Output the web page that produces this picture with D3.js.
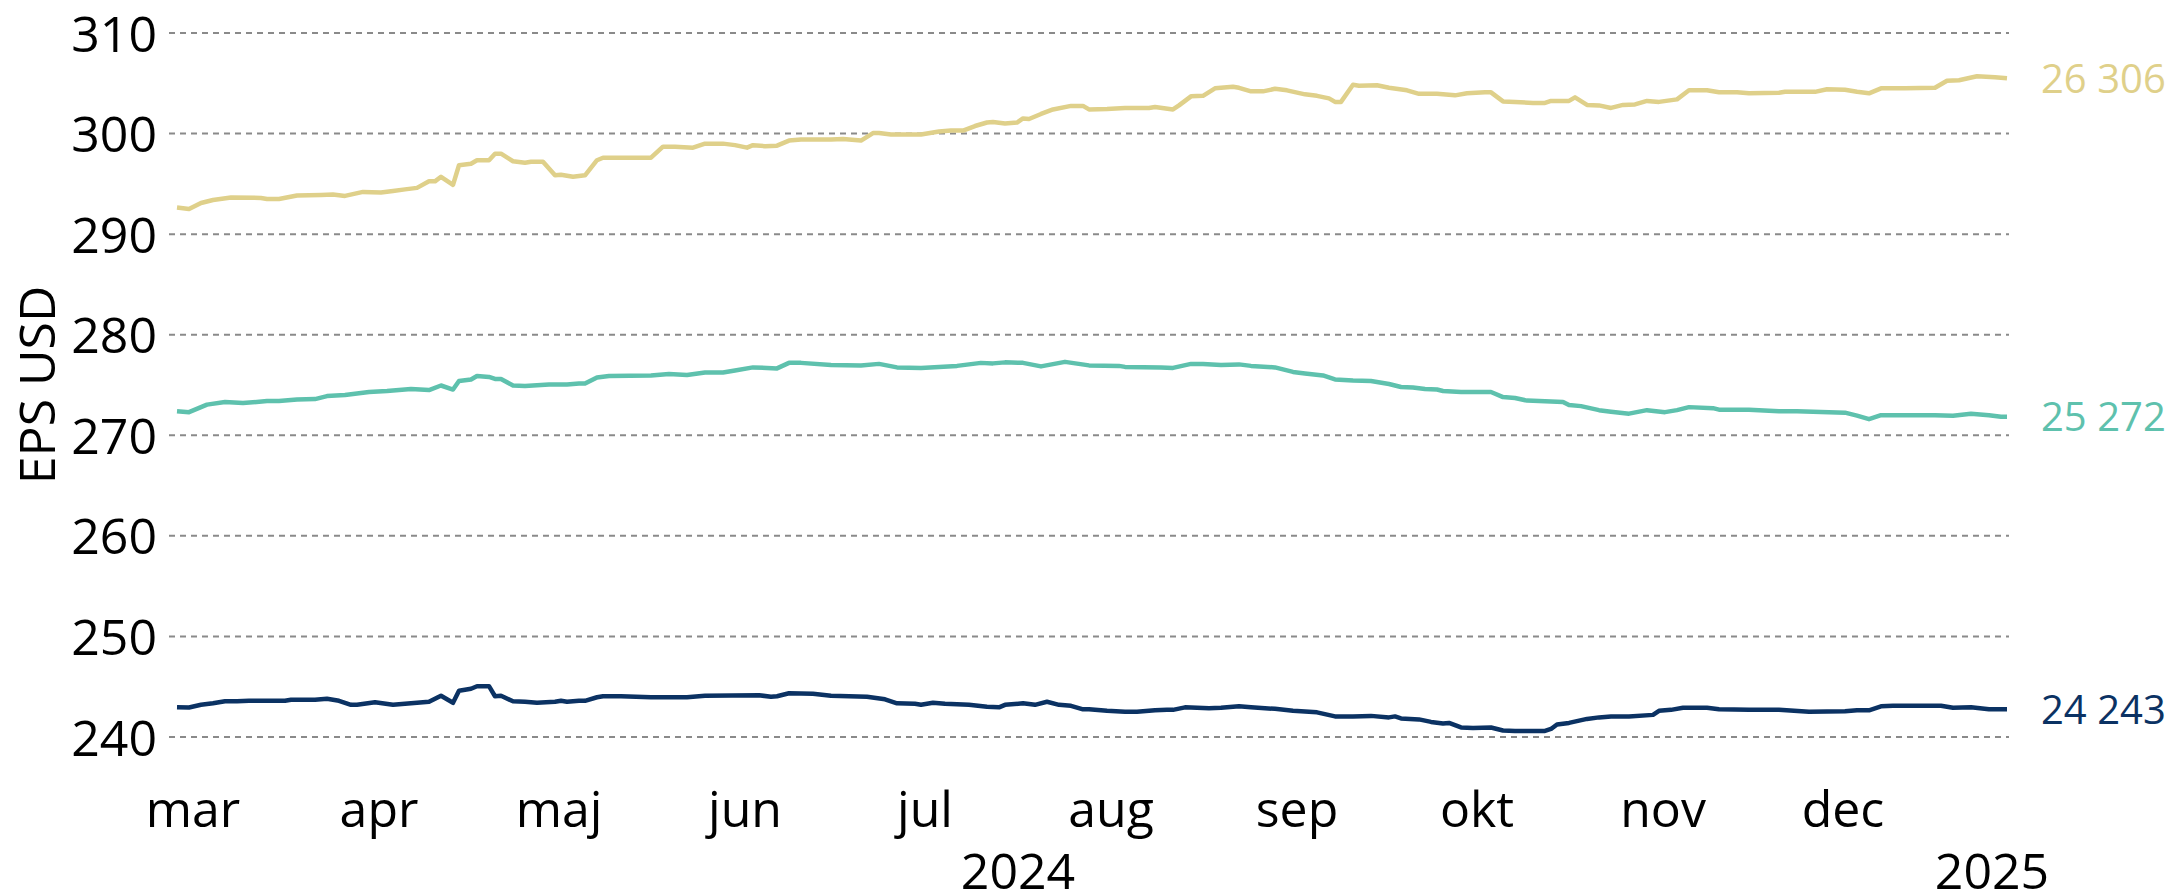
<!DOCTYPE html>
<meta charset="utf-8">
<title>EPS USD</title>
<style>

body {
  margin: 0;
  background: #fff;
}

svg {
  display: block;
  font-family: "Open Sans", sans-serif;
}

.grid line {
  stroke: #8a8a8a;
  stroke-width: 2;
  stroke-dasharray: 6 5;
}

.series {
  fill: none;
  stroke-width: 4.5;
  stroke-linejoin: round;
  stroke-linecap: butt;
}

</style>
<body>
<script src="https://d3js.org/d3.v7.min.js"></script>
<script>

// values, one [date, EPS] pair per knot (year 2024)
var goldSeries = [
  ["03-01",292.65],["03-03",292.5],["03-05",293.1],["03-07",293.4],["03-10",293.65],["03-15",293.6],
  ["03-16",293.5],["03-18",293.5],["03-21",293.85],["03-25",293.9],["03-27",293.95],["03-29",293.8],
  ["04-01",294.2],["04-04",294.15],["04-06",294.3],["04-08",294.45],["04-10",294.6],["04-12",295.25],
  ["04-13",295.25],["04-14",295.7],["04-16",294.9],["04-17",296.85],["04-19",297.0],["04-20",297.35],
  ["04-22",297.35],["04-23",298.0],["04-24",298.0],["04-26",297.25],["04-28",297.1],["04-29",297.2],
  ["05-01",297.2],["05-03",295.85],["05-04",295.9],["05-06",295.7],["05-08",295.85],["05-10",297.35],
  ["05-11",297.6],["05-14",297.6],["05-19",297.6],["05-21",298.7],["05-23",298.7],["05-26",298.6],
  ["05-28",299.0],["05-31",299.0],["06-02",298.85],["06-04",298.6],["06-05",298.85],["06-07",298.75],
  ["06-09",298.8],["06-11",299.3],["06-13",299.4],["06-18",299.4],["06-20",299.45],["06-23",299.3],
  ["06-25",300.05],["06-26",300.05],["06-28",299.9],["07-03",299.9],["07-04",300.0],["07-06",300.2],
  ["07-08",300.3],["07-10",300.3],["07-12",300.75],["07-14",301.1],["07-15",301.15],["07-17",301.0],
  ["07-19",301.1],["07-20",301.5],["07-21",301.45],["07-23",301.95],["07-25",302.4],["07-28",302.75],
  ["07-30",302.75],["07-31",302.4],["08-03",302.45],["08-06",302.55],["08-10",302.55],["08-11",302.65],
  ["08-14",302.4],["08-15",302.8],["08-17",303.7],["08-19",303.75],["08-21",304.5],["08-24",304.65],
  ["08-25",304.55],["08-27",304.2],["08-29",304.2],["08-31",304.45],["09-02",304.3],["09-05",303.9],
  ["09-07",303.75],["09-09",303.5],["09-10",303.15],["09-11",303.15],["09-13",304.85],["09-14",304.75],
  ["09-17",304.8],["09-19",304.55],["09-22",304.3],["09-24",303.95],["09-27",303.95],["09-30",303.8],
  ["10-02",304.0],["10-05",304.1],["10-06",304.1],["10-08",303.2],["10-10",303.15],["10-13",303.05],
  ["10-15",303.05],["10-16",303.25],["10-19",303.25],["10-20",303.6],["10-22",302.85],["10-24",302.8],
  ["10-26",302.55],["10-28",302.85],["10-30",302.9],["11-01",303.25],["11-03",303.15],["11-06",303.4],
  ["11-08",304.3],["11-11",304.3],["11-13",304.1],["11-16",304.1],["11-18",304.0],["11-23",304.05],
  ["11-24",304.15],["11-29",304.15],["12-01",304.4],["12-04",304.35],["12-06",304.15],["12-08",304.0],
  ["12-10",304.5],["12-14",304.5],["12-19",304.55],["12-21",305.25],["12-23",305.3],["12-26",305.7],
  ["12-29",305.6],["12-31",305.5]
];

var tealSeries = [
  ["03-01",272.4],["03-03",272.3],["03-06",273.05],["03-09",273.3],["03-12",273.2],["03-16",273.4],
  ["03-18",273.4],["03-21",273.55],["03-24",273.6],["03-26",273.9],["03-29",274.0],["04-02",274.3],
  ["04-05",274.4],["04-09",274.6],["04-12",274.5],["04-14",274.95],["04-16",274.55],["04-17",275.4],
  ["04-19",275.55],["04-20",275.9],["04-22",275.8],["04-23",275.6],["04-24",275.6],["04-26",274.95],
  ["04-28",274.9],["05-02",275.05],["05-05",275.05],["05-07",275.15],["05-08",275.15],["05-10",275.75],
  ["05-12",275.9],["05-19",275.95],["05-22",276.1],["05-25",276.0],["05-28",276.25],["05-31",276.25],
  ["06-02",276.45],["06-05",276.75],["06-09",276.65],["06-11",277.2],["06-13",277.2],["06-18",277.0],
  ["06-23",276.95],["06-26",277.1],["06-29",276.75],["07-03",276.7],["07-09",276.9],["07-13",277.2],
  ["07-15",277.15],["07-17",277.25],["07-20",277.2],["07-23",276.85],["07-27",277.3],["07-31",276.95],
  ["08-05",276.9],["08-06",276.8],["08-12",276.75],["08-14",276.7],["08-17",277.1],["08-19",277.1],
  ["08-22",277.0],["08-25",277.05],["08-27",276.9],["08-31",276.75],["09-03",276.3],["09-05",276.15],
  ["09-08",275.95],["09-10",275.55],["09-13",275.45],["09-16",275.4],["09-19",275.1],["09-21",274.8],
  ["09-23",274.75],["09-25",274.6],["09-27",274.55],["09-28",274.4],["10-01",274.3],["10-06",274.3],
  ["10-08",273.8],["10-10",273.7],["10-12",273.45],["10-18",273.3],["10-19",273.0],["10-21",272.9],
  ["10-24",272.5],["10-26",272.35],["10-29",272.15],["11-01",272.5],["11-04",272.3],["11-06",272.5],
  ["11-08",272.8],["11-12",272.7],["11-13",272.55],["11-18",272.55],["11-23",272.4],["11-26",272.4],
  ["12-04",272.25],["12-06",271.95],["12-08",271.6],["12-10",272.0],["12-16",272.0],["12-19",272.0],
  ["12-22",271.95],["12-25",272.15],["12-28",272.0],["12-30",271.85],["12-31",271.85]
];

var navySeries = [
  ["03-01",242.97],["03-03",242.94],["03-05",243.2],["03-07",243.35],["03-09",243.55],["03-11",243.55],
  ["03-13",243.6],["03-19",243.6],["03-20",243.7],["03-24",243.7],["03-26",243.8],["03-28",243.6],
  ["03-30",243.2],["03-31",243.2],["04-03",243.45],["04-06",243.2],["04-09",243.35],["04-12",243.5],
  ["04-14",244.1],["04-16",243.4],["04-17",244.6],["04-19",244.8],["04-20",245.05],["04-22",245.05],
  ["04-23",244.05],["04-24",244.1],["04-26",243.55],["04-28",243.5],["04-30",243.4],["05-03",243.5],
  ["05-04",243.6],["05-05",243.5],["05-07",243.6],["05-08",243.6],["05-10",243.95],["05-11",244.05],
  ["05-14",244.05],["05-19",243.95],["05-25",243.95],["05-28",244.1],["06-06",244.15],["06-08",244.0],
  ["06-09",244.05],["06-11",244.35],["06-15",244.3],["06-18",244.1],["06-24",244.0],["06-27",243.75],
  ["06-29",243.35],["07-02",243.3],["07-03",243.2],["07-05",243.4],["07-07",243.3],["07-11",243.2],
  ["07-14",243.0],["07-16",242.95],["07-17",243.2],["07-20",243.35],["07-22",243.2],["07-24",243.5],
  ["07-26",243.2],["07-28",243.1],["07-30",242.75],["07-31",242.75],["08-03",242.6],["08-06",242.5],
  ["08-08",242.5],["08-11",242.65],["08-13",242.7],["08-14",242.7],["08-16",242.95],["08-20",242.85],
  ["08-22",242.9],["08-25",243.05],["08-27",242.95],["08-31",242.8],["09-03",242.6],["09-07",242.45],
  ["09-10",242.05],["09-13",242.05],["09-16",242.1],["09-19",241.95],["09-20",242.05],["09-21",241.85],
  ["09-24",241.75],["09-26",241.5],["09-28",241.35],["09-29",241.4],["10-01",240.95],["10-03",240.9],
  ["10-06",240.95],["10-08",240.65],["10-10",240.6],["10-15",240.6],["10-16",240.8],["10-17",241.25],
  ["10-19",241.4],["10-22",241.8],["10-24",241.95],["10-26",242.05],["10-29",242.05],["11-02",242.2],
  ["11-03",242.6],["11-05",242.7],["11-07",242.9],["11-11",242.9],["11-13",242.75],["11-18",242.7],
  ["11-23",242.7],["11-28",242.5],["12-04",242.55],["12-06",242.65],["12-08",242.65],["12-10",243.05],
  ["12-12",243.1],["12-20",243.1],["12-22",242.9],["12-25",242.95],["12-28",242.75],["12-31",242.75]
];

var endLabels = ["26 306", "25 272", "24 243"];
var seriesColors = ["#dfd08a", "#5ec1ad", "#0b3263"];
var monthLabels = ["mar", "apr", "maj", "jun", "jul", "aug", "sep", "okt", "nov", "dec"];
var yearLabels = ["2024", "2025"];
var yTicks = [240, 250, 260, 270, 280, 290, 300, 310];

var width = 2167,
    height = 896;

var parseDay = d3.timeParse("%Y-%m-%d");
function toPoints(series) {
  return series.map(function(d) { return {date: parseDay("2024-" + d[0]), value: d[1]}; });
}

var series = [goldSeries, tealSeries, navySeries].map(toPoints);

var x = d3.scaleTime()
    .domain([new Date(2024, 2, 1), new Date(2024, 11, 31)])
    .range([177, 2007]);

var y = d3.scaleLinear()
    .domain([240, 310])
    .range([737, 33]);

var svg = d3.select("body").append("svg")
    .attr("width", width)
    .attr("height", height);

// dashed gridlines
svg.append("g")
    .attr("class", "grid")
  .selectAll("line")
  .data(yTicks)
  .enter().append("line")
    .attr("x1", x.range()[0] - 8)
    .attr("x2", x.range()[1] + 2)
    .attr("y1", function(d) { return y(d); })
    .attr("y2", function(d) { return y(d); });

// y labels
var yAxis = d3.axisLeft(y)
    .tickValues(yTicks)
    .tickSize(0)
    .tickPadding(12);

var gy = svg.append("g")
    .attr("transform", "translate(" + (x.range()[0] - 8) + ",0)")
    .call(yAxis);
gy.select(".domain").remove();
gy.selectAll("text")
    .attr("dy", "0.36em")
    .style("font-size", "50px")
    .style("font-family", "'Open Sans', sans-serif")
    .attr("fill", "#000");

svg.append("text")
    .attr("transform", "translate(55," + ((y(240) + y(310)) / 2) + ") rotate(-90)")
    .attr("text-anchor", "middle")
    .style("font-size", "50px")
    .text("EPS USD");

// lines
var line = d3.line()
    .x(function(d) { return x(d.date); })
    .y(function(d) { return y(d.value); });

svg.selectAll(".series")
  .data(series)
  .enter().append("path")
    .attr("class", "series")
    .attr("stroke", function(d, i) { return seriesColors[i]; })
    .attr("d", line);

// end labels
svg.selectAll(".end-label")
  .data(series)
  .enter().append("text")
    .attr("class", "end-label")
    .attr("x", function(d) { return x(d[d.length - 1].date) + 34; })
    .attr("y", function(d) { return y(d[d.length - 1].value); })
    .attr("dy", "0.36em")
    .attr("fill", function(d, i) { return seriesColors[i]; })
    .style("font-size", "40px")
    .text(function(d, i) { return endLabels[i]; });

// month labels, year row below
var months = d3.timeMonth.range(x.domain()[0], x.domain()[1]);

svg.selectAll(".month")
  .data(months)
  .enter().append("text")
    .attr("class", "month")
    .attr("x", function(d) { return x(d) + 16; })
    .attr("y", 827)
    .attr("text-anchor", "middle")
    .style("font-size", "50px")
    .text(function(d, i) { return monthLabels[i]; });

var yearPos = [
  (x(months[0]) + x(months[months.length - 1])) / 2 + 16,
  x.range()[1] - 15
];

svg.selectAll(".year")
  .data(yearLabels)
  .enter().append("text")
    .attr("class", "year")
    .attr("x", function(d, i) { return yearPos[i]; })
    .attr("y", 889)
    .attr("text-anchor", "middle")
    .style("font-size", "50px")
    .text(function(d) { return d; });

</script>
